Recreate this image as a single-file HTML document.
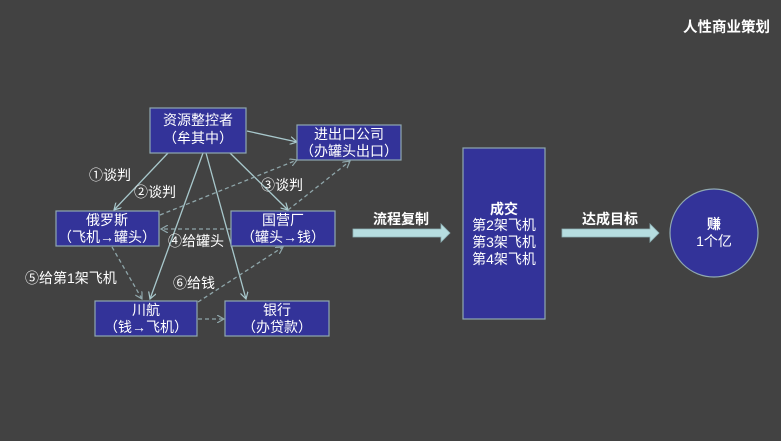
<!DOCTYPE html>
<html><head><meta charset="utf-8"><style>
html,body{margin:0;padding:0;background:#424242;}
svg{display:block;}
text{font-family:"Liberation Sans","Noto Sans CJK SC",sans-serif;fill:#fff;}
</style></head><body>
<svg width="781" height="441" viewBox="0 0 781 441" xmlns="http://www.w3.org/2000/svg">
<defs>
<marker id="a" markerWidth="8" markerHeight="8" refX="7" refY="4" orient="auto" markerUnits="userSpaceOnUse"><path d="M0,0 L7,4 L0,8" fill="none" stroke="#a8c8cc" stroke-width="1.2"/></marker>
<marker id="d" markerWidth="8" markerHeight="8" refX="7" refY="4" orient="auto" markerUnits="userSpaceOnUse"><path d="M0,0 L7,4 L0,8" fill="none" stroke="#8fa6aa" stroke-width="1.2"/></marker>
</defs>
<rect width="781" height="441" fill="#424242"/>
<text x="770" y="32" font-size="14.5" font-weight="bold" text-anchor="end">人性商业策划</text>

<g stroke="#a8c8cc" stroke-width="1.3" fill="none" marker-end="url(#a)">
<line x1="168" y1="153" x2="114" y2="210"/>
<line x1="230" y1="153" x2="288" y2="210"/>
<line x1="203" y1="153" x2="150" y2="299"/>
<line x1="206" y1="153" x2="246" y2="299"/>
<line x1="247" y1="131" x2="297" y2="142"/>
</g>
<g stroke="#8fa6aa" stroke-width="1.3" fill="none" stroke-dasharray="4,3" marker-end="url(#d)">
<line x1="160" y1="215" x2="297" y2="160"/>
<line x1="288" y1="210" x2="350" y2="161"/>
<line x1="231" y1="229" x2="161" y2="229"/>
<line x1="112" y1="247" x2="142" y2="299"/>
<line x1="198" y1="302" x2="283" y2="247"/>
<line x1="198" y1="319" x2="224" y2="319"/>
</g>

<g fill="#333399" stroke="#8fa8b0" stroke-width="1.2">
<rect x="150" y="108" width="96" height="45"/>
<rect x="297" y="125" width="104" height="35"/>
<rect x="56" y="211" width="103" height="35"/>
<rect x="231" y="211" width="104" height="35"/>
<rect x="95" y="301" width="102" height="35"/>
<rect x="225" y="301" width="104" height="35"/>
<rect x="463" y="148" width="82" height="171"/>
<circle cx="714" cy="233" r="44"/>
</g>

<g font-size="14" text-anchor="middle">
<text x="198" y="125">资源整控者</text>
<text x="198" y="143">（牟其中）</text>
<text x="349" y="139">进出口公司</text>
<text x="349" y="156">（办罐头出口）</text>
<text x="107" y="225">俄罗斯</text>
<text x="107" y="242">（飞机→罐头）</text>
<text x="283" y="225">国营厂</text>
<text x="283" y="242">（罐头→钱）</text>
<text x="146" y="315">川航</text>
<text x="146" y="332">（钱→飞机）</text>
<text x="277" y="315">银行</text>
<text x="277" y="332">（办贷款）</text>
<text x="504" y="214" font-weight="bold">成交</text>
<text x="504" y="230">第2架飞机</text>
<text x="504" y="247">第3架飞机</text>
<text x="504" y="264">第4架飞机</text>
<text x="714" y="229" font-weight="bold">赚</text>
<text x="714" y="246">1个亿</text>
</g>

<g font-size="14">
<text x="89" y="180">①谈判</text>
<text x="134" y="197">②谈判</text>
<text x="261" y="190">③谈判</text>
<text x="168" y="246">④给罐头</text>
<text x="25" y="283">⑤给第1架飞机</text>
<text x="173" y="288">⑥给钱</text>
</g>

<path d="M353,229 L441,229 L441,224 L450,233 L441,242 L441,237 L353,237 Z" fill="#b6dde0" stroke="#8fb2b6" stroke-width="0.8"/>
<path d="M562,229 L650,229 L650,224 L659,233 L650,242 L650,237 L562,237 Z" fill="#b6dde0" stroke="#8fb2b6" stroke-width="0.8"/>
<text x="401" y="224" font-size="14" font-weight="bold" text-anchor="middle">流程复制</text>
<text x="610" y="224" font-size="14" font-weight="bold" text-anchor="middle">达成目标</text>
</svg>
</body></html>
